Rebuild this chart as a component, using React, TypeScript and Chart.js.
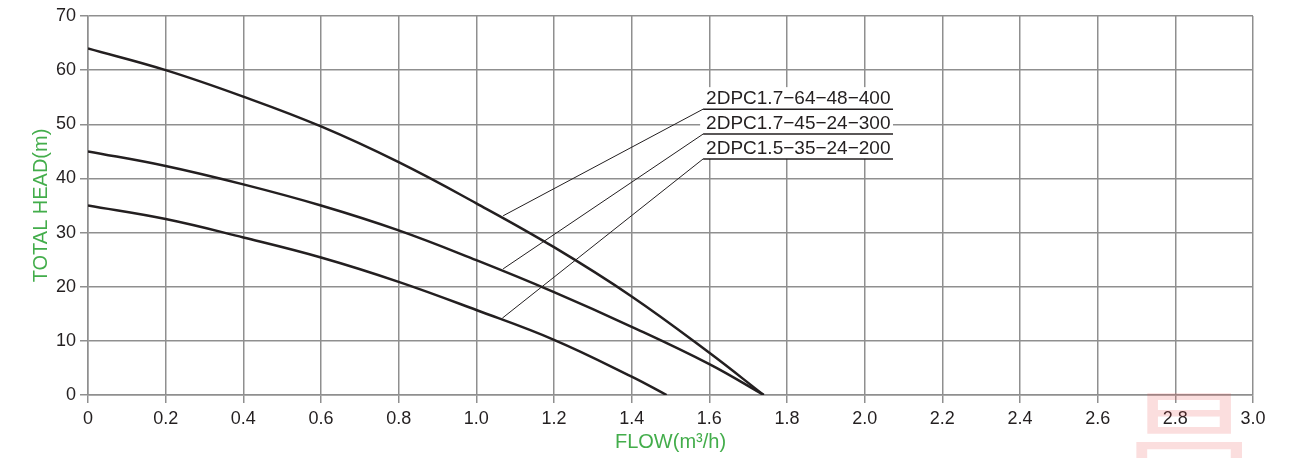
import React, { useEffect, useRef } from "react";
import { Chart, registerables } from "chart.js";

Chart.register(...registerables);

// ---- Data ----
const flowAB = [0, 0.2, 0.4, 0.6, 0.8, 1.0, 1.2, 1.4, 1.6, 1.74];
const flowC = [0, 0.2, 0.4, 0.6, 0.8, 1.0, 1.2, 1.4, 1.49];
const head400 = [64, 60, 55.1, 49.6, 43.0, 35.4, 27.3, 18.2, 7.8, 0];
const head300 = [45, 42.3, 38.9, 35.0, 30.4, 24.9, 19.0, 12.6, 5.7, 0];
const head200 = [35, 32.5, 29.1, 25.4, 20.9, 15.7, 10.2, 3.4, 0];

const modelNames = ["2DPC1.7\u221264\u221248\u2212400", "2DPC1.7\u221245\u221224\u2212300", "2DPC1.5\u221235\u221224\u2212200"];
const labelAnchorY = [52.8, 48.2, 43.6];
const labelStartX = 1.584;
const labelEndX = 2.073;
const leaderTargetX = [1.069, 1.069, 1.067];
const leaderTargetY = [33.1, 23.3, 14.2];

const xTitle = "FLOW(m\u00b3/h)";
const yTitle = "TOTAL HEAD(m)";
const watermark = "昌";

const FONT = "'Liberation Sans', Arial, Helvetica, sans-serif";
const INK = "#231f20";
const GRID = "#8f8f8f";
const GREEN = "#43ad4b";

const toPts = (xs: number[], ys: number[]) => ys.map((y, i) => ({ x: xs[i], y }));

const annotationPlugin = {
  id: "pumpLabels",
  beforeDatasetsDraw(chart: any) {
    const { ctx } = chart;
    ctx.save();
    ctx.fillStyle = "rgba(235,70,70,0.18)";
    ctx.font = `138px 'Noto Sans CJK SC', sans-serif`;
    ctx.textAlign = "center";
    ctx.textBaseline = "top";
    ctx.translate(1189, 385);
    ctx.scale(1, 0.8);
    ctx.fillText(watermark, 0, 0);
    ctx.restore();
  },
  afterDatasetsDraw(chart: any) {
    const { ctx, scales } = chart;
    const xs = scales.x;
    const ys = scales.y;
    const x0 = xs.getPixelForValue(labelStartX);
    const x1 = xs.getPixelForValue(labelEndX);
    ctx.save();
    const topY = ys.getPixelForValue(labelAnchorY[0]) - 22;
    const botY = ys.getPixelForValue(labelAnchorY[labelAnchorY.length - 1]);
    ctx.fillStyle = "#ffffff";
    ctx.fillRect(x0 - 3, topY, x1 - x0 + 3, botY - topY);
    modelNames.forEach((name, i) => {
      const yA = ys.getPixelForValue(labelAnchorY[i]);
      const tx = xs.getPixelForValue(leaderTargetX[i]);
      const ty = ys.getPixelForValue(leaderTargetY[i]);
      ctx.strokeStyle = INK;
      ctx.lineWidth = 1;
      ctx.beginPath();
      ctx.moveTo(x0, yA);
      ctx.lineTo(tx, ty);
      ctx.stroke();
      ctx.lineWidth = 1.5;
      ctx.beginPath();
      ctx.moveTo(x0, yA);
      ctx.lineTo(x1, yA);
      ctx.stroke();
      ctx.fillStyle = INK;
      ctx.font = `19px ${FONT}`;
      ctx.textAlign = "left";
      ctx.textBaseline = "alphabetic";
      ctx.fillText(name, x0 + 3, yA - 5);
    });
    ctx.restore();
  },
};

export default function App() {
  const ref = useRef<HTMLCanvasElement | null>(null);
  useEffect(() => {
    document.body.style.margin = "0";
    if (!ref.current) return;
    const line = (data: any) => ({
      data,
      borderColor: INK,
      borderWidth: 2.5,
      pointRadius: 0,
      fill: false,
      tension: 0.4,
    });
    const chart = new Chart(ref.current, {
      type: "line",
      data: {
        datasets: [
          { label: modelNames[0], ...line(toPts(flowAB, head400)) },
          { label: modelNames[1], ...line(toPts(flowAB, head300)) },
          { label: modelNames[2], ...line(toPts(flowC, head200)) },
        ],
      },
      options: {
        animation: false,
        responsive: false,
        layout: { padding: { top: 16, right: 43, left: 0, bottom: 0 } },
        plugins: { legend: { display: false }, tooltip: { enabled: false } },
        scales: {
          x: {
            type: "linear",
            min: 0,
            max: 3,
            afterFit: (s: any) => { s.height = 63; },
            grid: { color: GRID, lineWidth: 1.5, tickLength: 8, drawTicks: true },
            border: { color: GRID, width: 1.5 },
            ticks: {
              stepSize: 0.2,
              padding: 5,
              color: INK,
              font: { family: FONT, size: 18 },
              maxRotation: 0,
              autoSkip: false,
              callback: (v: any) => (Number(v) === 0 ? "0" : Number(v).toFixed(1)),
            },
            title: {
              display: true,
              text: xTitle,
              color: GREEN,
              font: { family: FONT, size: 20 },
              padding: { top: 0, bottom: 4 },
            },
          },
          y: {
            min: 0,
            max: 70,
            afterFit: (s: any) => { s.width = 88; },
            grid: { color: GRID, lineWidth: 1.5, tickLength: 8, drawTicks: true },
            border: { color: GRID, width: 1.5 },
            ticks: {
              stepSize: 10,
              padding: 4,
              color: INK,
              font: { family: FONT, size: 18 },
            },
            title: {
              display: true,
              text: yTitle,
              color: GREEN,
              font: { family: FONT, size: 20 },
              padding: { top: 29, bottom: 0 },
            },
          },
        },
      },
      plugins: [annotationPlugin],
    });
    return () => chart.destroy();
  }, []);
  return (
    <div style={{ position: "absolute", left: 0, top: 0, width: 1296, height: 458, background: "#fff" }}>
      <canvas ref={ref} width={1296} height={458} style={{ display: "block" }} />
    </div>
  );
}
